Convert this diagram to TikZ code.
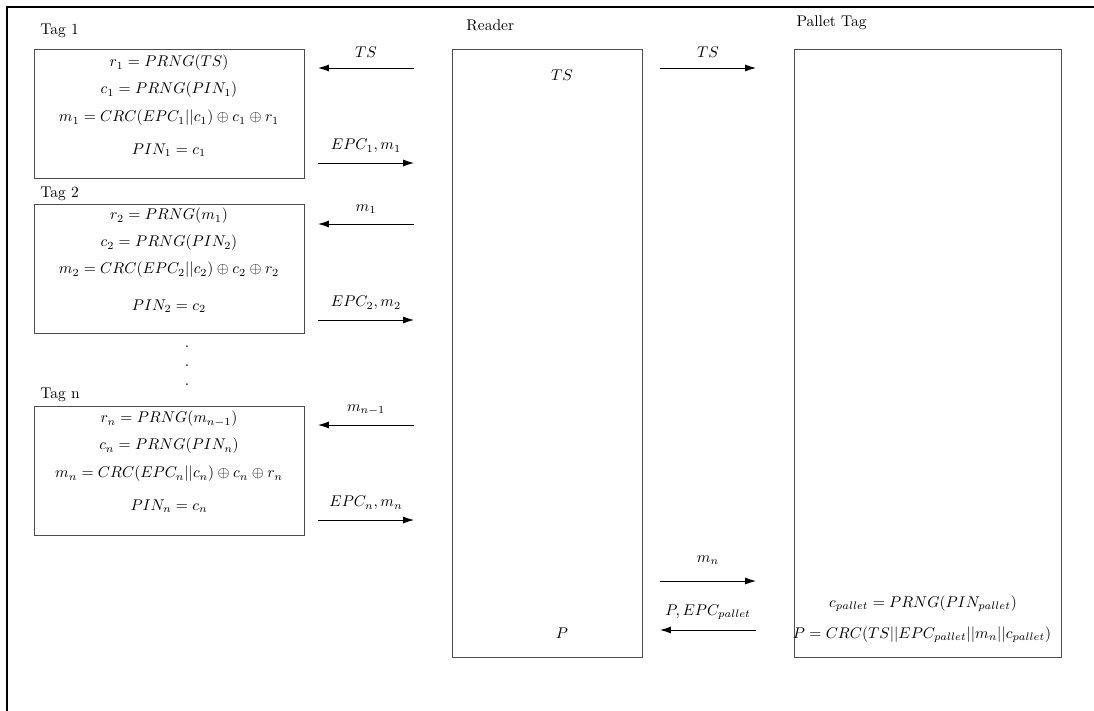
\documentclass[tikz,border=0pt]{standalone}
\usepackage{amsmath,amssymb}
\usetikzlibrary{arrows.meta,positioning}
\newcommand{\pxu}{0.02263cm}

\begin{document}
\begin{tikzpicture}[x=\pxu, y=-\pxu,
    party/.style={draw, black!70, line width=0.6pt, inner sep=0pt},
    msg/.style={line width=0.55pt, -{Latex[length=7pt,width=4.5pt]}},
    lbl/.style={above=3pt}]
    \useasboundingbox (0,0) rectangle (1094,711);
    \draw[line width=0.8pt] (1094,7) -- (7,7) -- (7,711);

    % tags on the left
    \node[party, minimum width=270*\pxu, minimum height=129*\pxu] (tag1) at (169,113.5) {};
    \node[party, minimum width=270*\pxu, minimum height=129*\pxu] (tag2) at (169,268.5) {};
    \node[party, minimum width=270*\pxu, minimum height=129*\pxu] (tagn) at (169,470.5) {};
    \node[anchor=base west] (tag1lbl) at (35,35) {Tag 1};
    \node[anchor=base west] (tag2lbl) at (35,198) {Tag 2};
    \node[anchor=base west] (tagnlbl) at (35,398) {Tag n};

    \node (r1) at (169,63) {$r_1 = PRNG(TS)$};
    \node (c1) at (169,90) {$c_1 = PRNG(PIN_1)$};
    \node (m1) at (169,118) {$m_1 = CRC(EPC_1||c_1) \oplus c_1 \oplus r_1$};
    \node (pin1) at (169,150) {$PIN_1 = c_1$};

    \node (r2) at (169,216) {$r_2 = PRNG(m_1)$};
    \node (c2) at (169,243) {$c_2 = PRNG(PIN_2)$};
    \node (m2) at (169,270) {$m_2 = CRC(EPC_2||c_2) \oplus c_2 \oplus r_2$};
    \node (pin2) at (169,306) {$PIN_2 = c_2$};

    \node (dot1) at (187,347) {.};
    \node (dot2) at (187,366) {.};
    \node (dot3) at (187,385) {.};

    \node (rn) at (169,419) {$r_n = PRNG(m_{n-1})$};
    \node (cn) at (169,446) {$c_n = PRNG(PIN_n)$};
    \node (mn) at (169,474) {$m_n = CRC(EPC_n||c_n) \oplus c_n \oplus r_n$};
    \node (pinn) at (169,506) {$PIN_n = c_n$};

    % reader and pallet tag
    \node[party, minimum width=190*\pxu, minimum height=608*\pxu] (reader) at (547,353) {};
    \node[anchor=base west] (readerlbl) at (461,31) {Reader};
    \node (rts) at (562,75) {$TS$};
    \node (rp) at (562,633) {$P$};

    \node[party, minimum width=267*\pxu, minimum height=608*\pxu] (pallet) at (927.5,353) {};
    \node[anchor=base west] (palletlbl) at (791,27) {Pallet Tag};
    \node (cp) at (923,604) {$c_{pallet} = PRNG(PIN_{pallet})$};
    \node (pp) at (922,635) {$P = CRC(TS||EPC_{pallet}||m_n||c_{pallet})$};

    % messages
    \foreach \i/\y in {1/68,2/163,3/224,4/320,5/425,6/520} {
        \coordinate (lw\i) at (318,\y);
        \coordinate (le\i) at (414,\y);
    }
    \foreach \i/\y in {1/68,2/581,3/630} {
        \coordinate (rw\i) at (660,\y);
        \coordinate (re\i) at (756,\y);
    }
    \draw[msg] (le1) -- node[lbl]{$TS$} (lw1);
    \draw[msg] (lw2) -- node[lbl]{$EPC_1, m_1$} (le2);
    \draw[msg] (le3) -- node[lbl]{$m_1$} (lw3);
    \draw[msg] (lw4) -- node[lbl]{$EPC_2, m_2$} (le4);
    \draw[msg] (le5) -- node[lbl]{$m_{n-1}$} (lw5);
    \draw[msg] (lw6) -- node[lbl]{$EPC_n, m_n$} (le6);

    \draw[msg] (rw1) -- node[lbl]{$TS$} (re1);
    \draw[msg] (rw2) -- node[above=7pt]{$m_n$} (re2);
    \draw[msg] (re3) -- node[lbl]{$P, EPC_{pallet}$} (rw3);

\end{tikzpicture}
\end{document}
